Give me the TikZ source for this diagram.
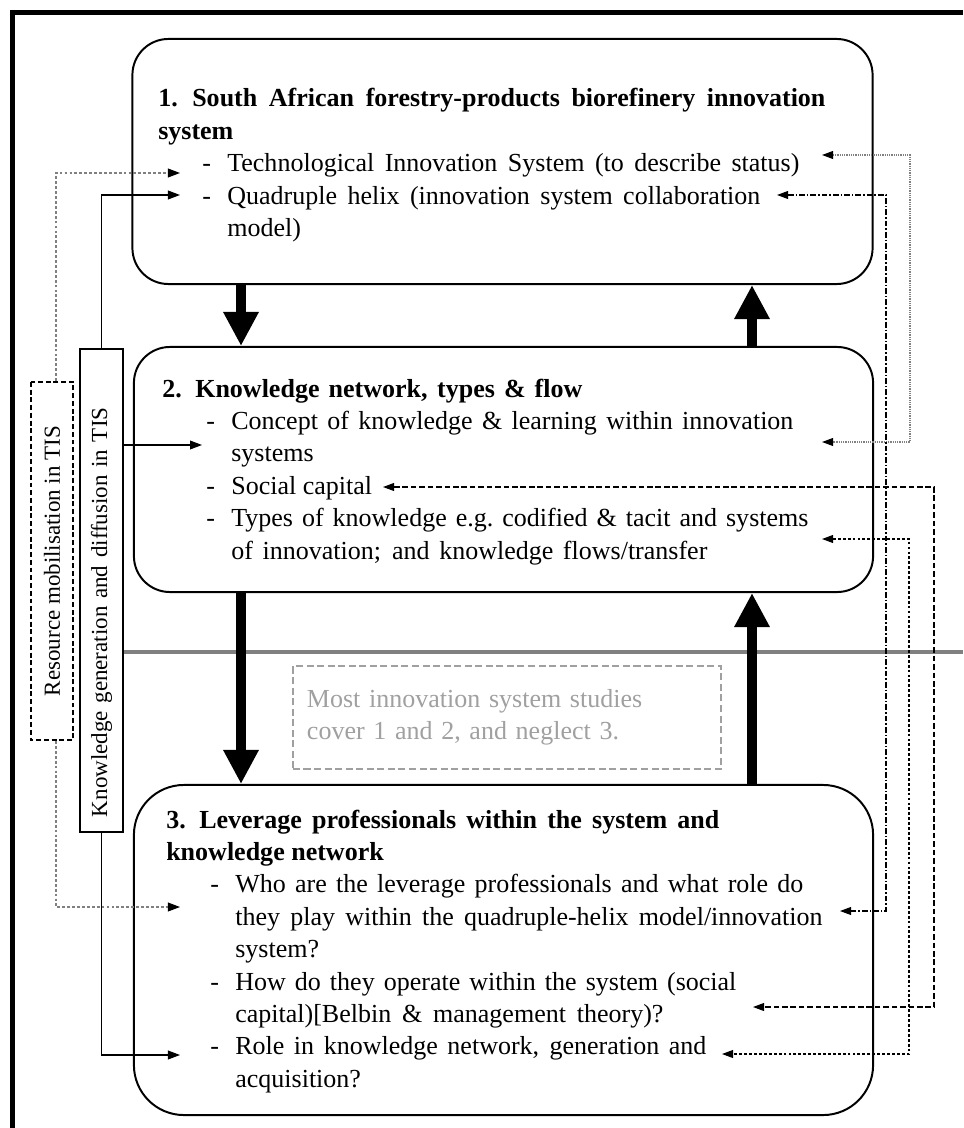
\documentclass[tikz,border=0pt]{standalone}
\usepackage{fontspec}
\setmainfont{Liberation Serif}
\usepackage{tikz}
\usetikzlibrary{arrows.meta}
\definecolor{linegray}{HTML}{808080}
\definecolor{notegray}{HTML}{A0A0A0}
\tikzstyle{grayline} = [linegray, line width=0.09cm]
\newcommand{\bodyfont}{\fontsize{18.5}{23.05}\selectfont}
\newcommand{\sidefont}{\fontsize{16.35}{19}\selectfont}
\newcommand{\dashline}{\hspace*{1.1cm}\makebox[0.625cm][l]{-}}
\newcommand{\wrapline}{\hspace*{1.725cm}}
\newcommand{\fillline}[2]{\makebox[#1][s]{#2}}

\begin{document}
\begin{tikzpicture}
 [x=0.025cm, y=-0.025cm,
  every node/.style={font=\bodyfont},
  block/.style={draw, line width=1.4pt, rounded corners=0.9cm, minimum width=18.5cm, minimum height=6.125cm},
  txt/.style={anchor=base west, inner sep=0pt},
  side/.style={draw, line width=1.4pt, rotate=90, minimum height=1.06cm, font=\sidefont},
  bigarrow/.style={line width=0.25cm, -{Triangle[width=0.83cm,length=0.85cm]}},
  link/.style={line width=0.8pt, -{Triangle[width=0.22cm,length=0.3cm,color=black]}},
  both/.style={line width=0.8pt, {Triangle[width=0.2cm,length=0.28cm,color=black]}-{Triangle[width=0.2cm,length=0.28cm,color=black]}},
  graydash/.style={linegray, dash pattern=on 2pt off 1.5pt},
  notebox/.style={draw=notegray, dash pattern=on 5pt off 2.5pt, line width=1pt, text=notegray,
    minimum height=2.575cm, text width=10cm, inner xsep=0.35cm, align=left}]

  \useasboundingbox (0,0) rectangle (963,1128);
  \draw[line width=0.125cm] (12.5,1128) -- (12.5,12.5) -- (963,12.5);

  % the three levels
  \draw node[block] at (502.5,161.5) (sys) {};
  \draw node[block, minimum width=18.475cm] at (503.5,469.5) (net) {};
  \draw node[block, minimum width=18.475cm, minimum height=8.25cm, rounded corners=1.25cm] at (503.5,950) (lev) {};

  \node[txt] (systxt) at (158,107) {\begin{tabular}[t]{@{}l@{}}
    \textbf{\makebox[0.85cm][l]{1.}\fillline{15.825cm}{South African forestry-products biorefinery innovation}}\\
    \textbf{system}\\
    \dashline\fillline{14.3cm}{Technological Innovation System (to describe status)}\\
    \dashline\fillline{13.325cm}{Quadruple helix (innovation system collaboration}\\
    \wrapline model)
  \end{tabular}};
  \node[txt] (nettxt) at (162,397) {\begin{tabular}[t]{@{}l@{}}
    \textbf{\makebox[0.825cm][l]{2.}\fillline{9.675cm}{Knowledge network, types \& flow}}\\
    \dashline\fillline{14.05cm}{Concept of knowledge \& learning within innovation}\\
    \wrapline systems\\
    \dashline Social capital\\
    \dashline\fillline{14.425cm}{Types of knowledge e.g.\ codified \& tacit and systems}\\
    \wrapline\fillline{11.9cm}{of innovation; and knowledge flows/transfer}
  \end{tabular}};
  \node[txt] (levtxt) at (166,828) {\begin{tabular}[t]{@{}l@{}}
    \textbf{\makebox[0.825cm][l]{3.}\fillline{13cm}{Leverage professionals within the system and}}\\
    \textbf{knowledge network}\\
    \dashline\fillline{14.2cm}{Who are the leverage professionals and what role do}\\
    \wrapline\fillline{14.675cm}{they play within the quadruple-helix model/innovation}\\
    \wrapline system?\\
    \dashline\fillline{12.525cm}{How do they operate within the system (social}\\
    \wrapline\fillline{10.7cm}{capital)[Belbin \& management theory)?}\\
    \dashline\fillline{11.775cm}{Role in knowledge network, generation and}\\
    \wrapline acquisition?
  \end{tabular}};

  % TIS functions on the left
  \node[side, dash pattern=on 3.5pt off 2pt, minimum width=8.95cm] (res) at (52,561) {Resource mobilisation in TIS};
  \node[side, minimum width=12.075cm, text width=11.325cm, align=left, inner xsep=0.375cm] (kgd) at (101.5,590.5) {Knowledge generation and diffusion in TIS};

  \coordinate (sepR) at (963,652);
  \draw[grayline] (kgd.south |- sepR) -- (sepR);

  \node[notebox] (note) at (507,717.5) {\fillline{8.5cm}{Most innovation system studies}\\
    \fillline{7.75cm}{cover 1 and 2, and neglect 3.}};

  \coordinate (dn) at (241,0);
  \coordinate (up) at (752,0);
  \foreach \a/\b in {sys/net, net/lev} {
    \draw[bigarrow] (\a.south -| dn) -- (\b.north -| dn);
    \draw[bigarrow] (\b.north -| up) -- (\a.south -| up);
  }

  \coordinate (tisL) at (180,173);
  \coordinate (helixL) at (180,195);
  \coordinate (knowL) at (202,445);
  \coordinate (whoL) at (180,907);
  \coordinate (roleL) at (180,1055);
  \draw[link, graydash] ([xshift=0.1cm]res.east) |- (tisL);
  \draw[link, graydash] ([xshift=0.1cm]res.west) |- (whoL);
  \draw[link] (kgd.east) |- (helixL);
  \draw[link] (kgd.south |- knowL) -- (knowL);
  \draw[link] (kgd.west) |- (roleL);

  % feedback on the right
  \coordinate (tisR) at (822,155);
  \coordinate (conceptR) at (822,442);
  \coordinate (helixR) at (777,195);
  \coordinate (whoR) at (840,911);
  \coordinate (socialR) at (383,487);
  \coordinate (howR) at (753,1007);
  \coordinate (typesR) at (822,539);
  \coordinate (roleR) at (722,1054);
  \draw[both, linegray, dash pattern=on 0.8pt off 0.8pt] (tisR) -- ++(88,0) |- (conceptR);
  \draw[both, dash pattern=on 4pt off 1.5pt on 1pt off 1.5pt] (helixR) -- ++(109,0) |- (whoR);
  \draw[both, dash pattern=on 4pt off 2pt] (socialR) -- ++(551,0) |- (howR);
  \draw[both, dash pattern=on 2pt off 1.5pt] (typesR) -- ++(87,0) |- (roleR);

%  1 px = 0.025cm
\end{tikzpicture}
\end{document}
